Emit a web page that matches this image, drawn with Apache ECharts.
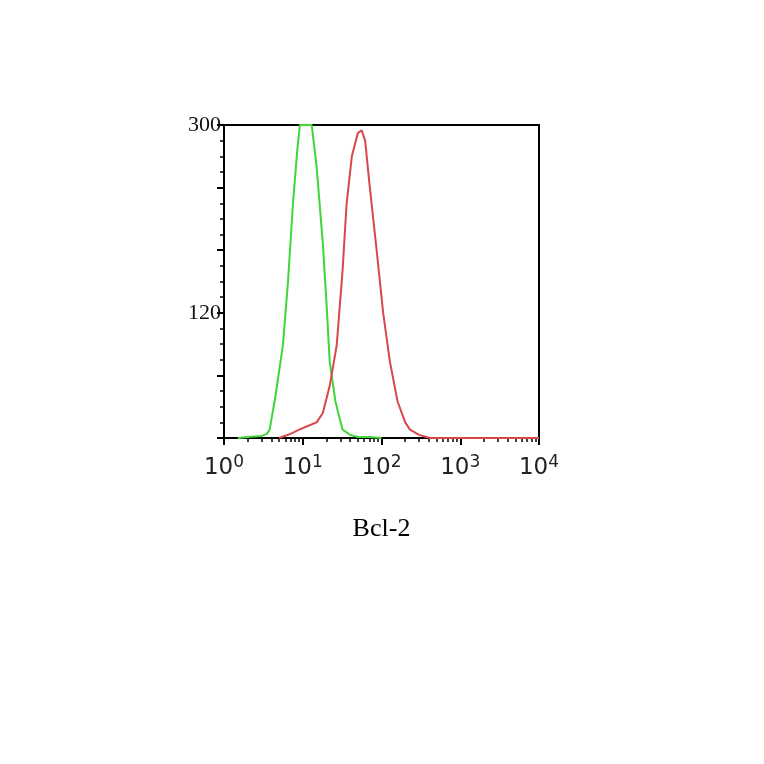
<!DOCTYPE html>
<html>
<head>
<meta charset="utf-8">
<script src="https://cdn.jsdelivr.net/npm/echarts@6/dist/echarts.min.js"></script>
<style>html,body{margin:0;background:#fff}#main{width:764px;height:764px}</style>
</head>
<body>
<div id="main"></div>
<script>
'use strict';

// control (green) histogram
const greenX = [1.5, 2, 3, 3.5, 3.8, 4.5, 5.6, 6.5, 7.5, 8.5, 9.2, 10, 12, 13, 15, 18, 20, 22, 26, 32, 40, 50, 70, 100];
const greenY = [0, 1, 2, 4, 8, 40, 89, 150, 224, 275, 300, 300, 300, 300, 260, 186, 130, 73, 35, 8, 3, 1, 1, 0];
// Bcl-2 stained (red) histogram
const redX = [5, 7, 9, 12, 15, 18, 22, 27, 32, 36, 42, 50, 56, 62, 70, 87, 105, 128, 160, 200, 230, 300, 410, 1000, 5000, 10000];
const redY = [0, 4, 8, 12, 15, 24, 50, 89, 160, 224, 270, 292, 295, 285, 245, 179, 120, 73, 35, 15, 8, 3, 0, 0, 0, 0];
const yLabels = [120, 300];
const xTicks = ['0', '1', '2', '3', '4'];

const pairs = (xs, ys) => xs.map((x, i) => [x, ys[i]]);

const chart = echarts.init(document.getElementById('main'));
chart.setOption({
    animation: false,
    grid: { left: 224, top: 125, width: 315, height: 313 },
    xAxis: {
        type: 'log', logBase: 10, min: 1, max: 10000,
        axisLine: { onZero: false, lineStyle: { color: '#000', width: 2 } },
        axisTick: { show: true, length: 7, lineStyle: { color: '#000', width: 2 } },
        minorTick: { show: true, splitNumber: 9, length: 4, lineStyle: { color: '#000', width: 1.5 } },
        splitLine: { show: false },
        axisLabel: {
            margin: 16, color: '#222', fontFamily: 'DejaVu Sans', fontSize: 23,
            formatter: v => '10{s|' + xTicks[Math.round(Math.log10(v))] + '}',
            rich: { s: { fontSize: 17, fontFamily: 'DejaVu Sans', color: '#222', padding: [0, 0, 12, 0] } }
        },
        name: 'Bcl-2', nameLocation: 'middle', nameGap: 78,
        nameTextStyle: { color: '#000', fontSize: 26, fontFamily: 'Liberation Serif' }
    },
    yAxis: {
        type: 'value', min: 0, max: 300, interval: 60,
        axisLine: { show: true, lineStyle: { color: '#000', width: 2 } },
        axisTick: { show: true, length: 7, lineStyle: { color: '#000', width: 2 } },
        minorTick: { show: true, splitNumber: 4, length: 4, lineStyle: { color: '#000', width: 1.5 } },
        splitLine: { show: false },
        axisLabel: {
            color: '#111', fontSize: 22, fontFamily: 'Liberation Serif', margin: 3,
            formatter: v => yLabels.includes(v) ? String(v) : ''
        }
    },
    graphic: [{
        type: 'rect', shape: { x: 224, y: 125, width: 315, height: 313 },
        style: { fill: 'none', stroke: '#000', lineWidth: 2 }, silent: true
    }],
    series: [
        { type: 'line', data: pairs(greenX, greenY), symbol: 'none', lineStyle: { color: '#3fd63a', width: 2 } },
        { type: 'line', data: pairs(redX, redY), symbol: 'none', lineStyle: { color: '#d8474a', width: 2 } }
    ]
});
</script>
</body>
</html>
